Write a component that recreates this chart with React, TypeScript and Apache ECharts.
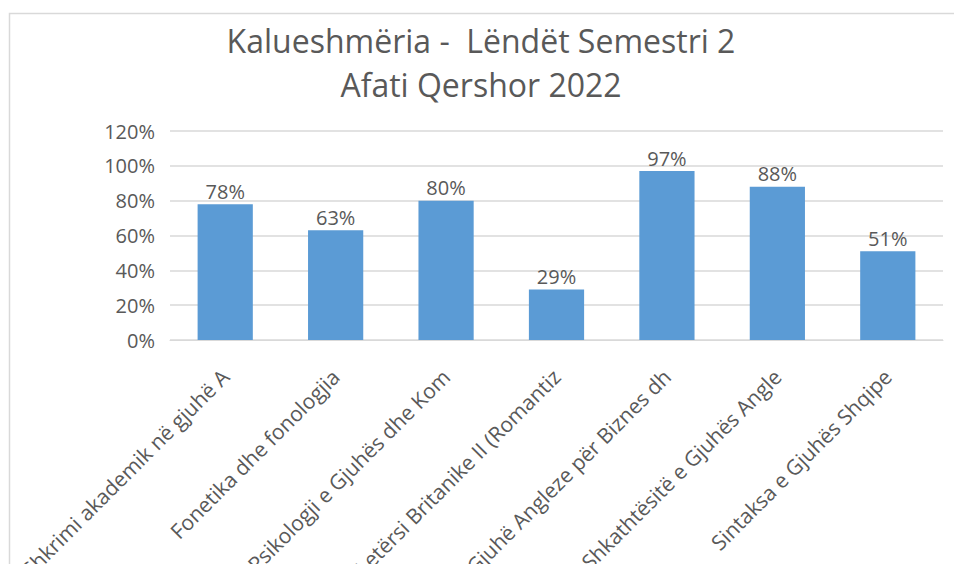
import { useEffect, useRef } from "react";
import * as echarts from "echarts";

const titleLine1 = "Kalueshmëria -  Lëndët Semestri 2";
const titleLine2 = "Afati Qershor 2022";
const categories = [
  "Shkrimi akademik në gjuhë A",
  "Fonetika dhe fonologjia",
  "Psikologji e Gjuhës dhe Kom",
  "Letërsi Britanike II (Romantiz",
  "Gjuhë Angleze për Biznes dh",
  "Shkathtësitë e Gjuhës Angle",
  "Sintaksa e Gjuhës Shqipe",
];
const values = [78, 63, 80, 29, 97, 88, 51];
const yMin = 0;
const yMax = 120;
const yStep = 20;

const FONT = '"Open Sans", sans-serif';
const TEXT = "#595959";
const GRID = "#d9d9d9";

export default function App() {
  const ref = useRef<HTMLDivElement>(null);
  useEffect(() => {
    if (!ref.current) return;
    const chart = echarts.init(ref.current, null, { renderer: "svg" });
    chart.setOption({
      animation: false,
      backgroundColor: "#ffffff",
      textStyle: { fontFamily: FONT },
      graphic: [
        {
          type: "rect",
          shape: { x: 9.5, y: 13.5, width: 1000, height: 700 },
          style: { fill: "none", stroke: GRID, lineWidth: 1.5 },
          silent: true,
        },
        {
          type: "text",
          x: 481,
          y: 40,
          style: {
            text: titleLine1,
            fill: TEXT,
            font: `32px ${FONT}`,
            textAlign: "center",
            textVerticalAlign: "middle",
          },
        },
        {
          type: "text",
          x: 481,
          y: 84,
          style: {
            text: titleLine2,
            fill: TEXT,
            font: `32px ${FONT}`,
            textAlign: "center",
            textVerticalAlign: "middle",
          },
        },
      ],
      grid: {
        left: 170,
        right: 11,
        top: 131,
        bottom: 224,
        containLabel: false,
        outerBoundsMode: "none",
      },
      xAxis: {
        type: "category",
        data: categories,
        axisLine: { show: true, lineStyle: { color: GRID, width: 1 } },
        axisTick: { show: false },
        axisLabel: {
          rotate: 45,
          margin: 33,
          interval: 0,
          color: TEXT,
          fontSize: 21,
          fontFamily: FONT,
        },
      },
      yAxis: {
        type: "value",
        min: yMin,
        max: yMax,
        interval: yStep,
        axisLine: { show: false },
        axisTick: { show: false },
        splitLine: { lineStyle: { color: GRID, width: 1.5 } },
        axisLabel: {
          formatter: "{value}%",
          color: TEXT,
          fontSize: 20,
          fontFamily: FONT,
          margin: 15,
        },
      },
      series: [
        {
          type: "bar",
          data: values,
          barCategoryGap: "50%",
          itemStyle: { color: "#5B9BD5" },
          label: {
            show: true,
            position: "top",
            distance: 3,
            formatter: "{c}%",
            color: TEXT,
            fontSize: 20,
            fontFamily: FONT,
          },
        },
      ],
    });
    return () => chart.dispose();
  }, []);
  return (
    <div
      style={{ position: "fixed", left: 0, top: 0, width: 954, height: 564, overflow: "hidden" }}
    >
      <div ref={ref} style={{ width: 954, height: 564 }} />
    </div>
  );
}
